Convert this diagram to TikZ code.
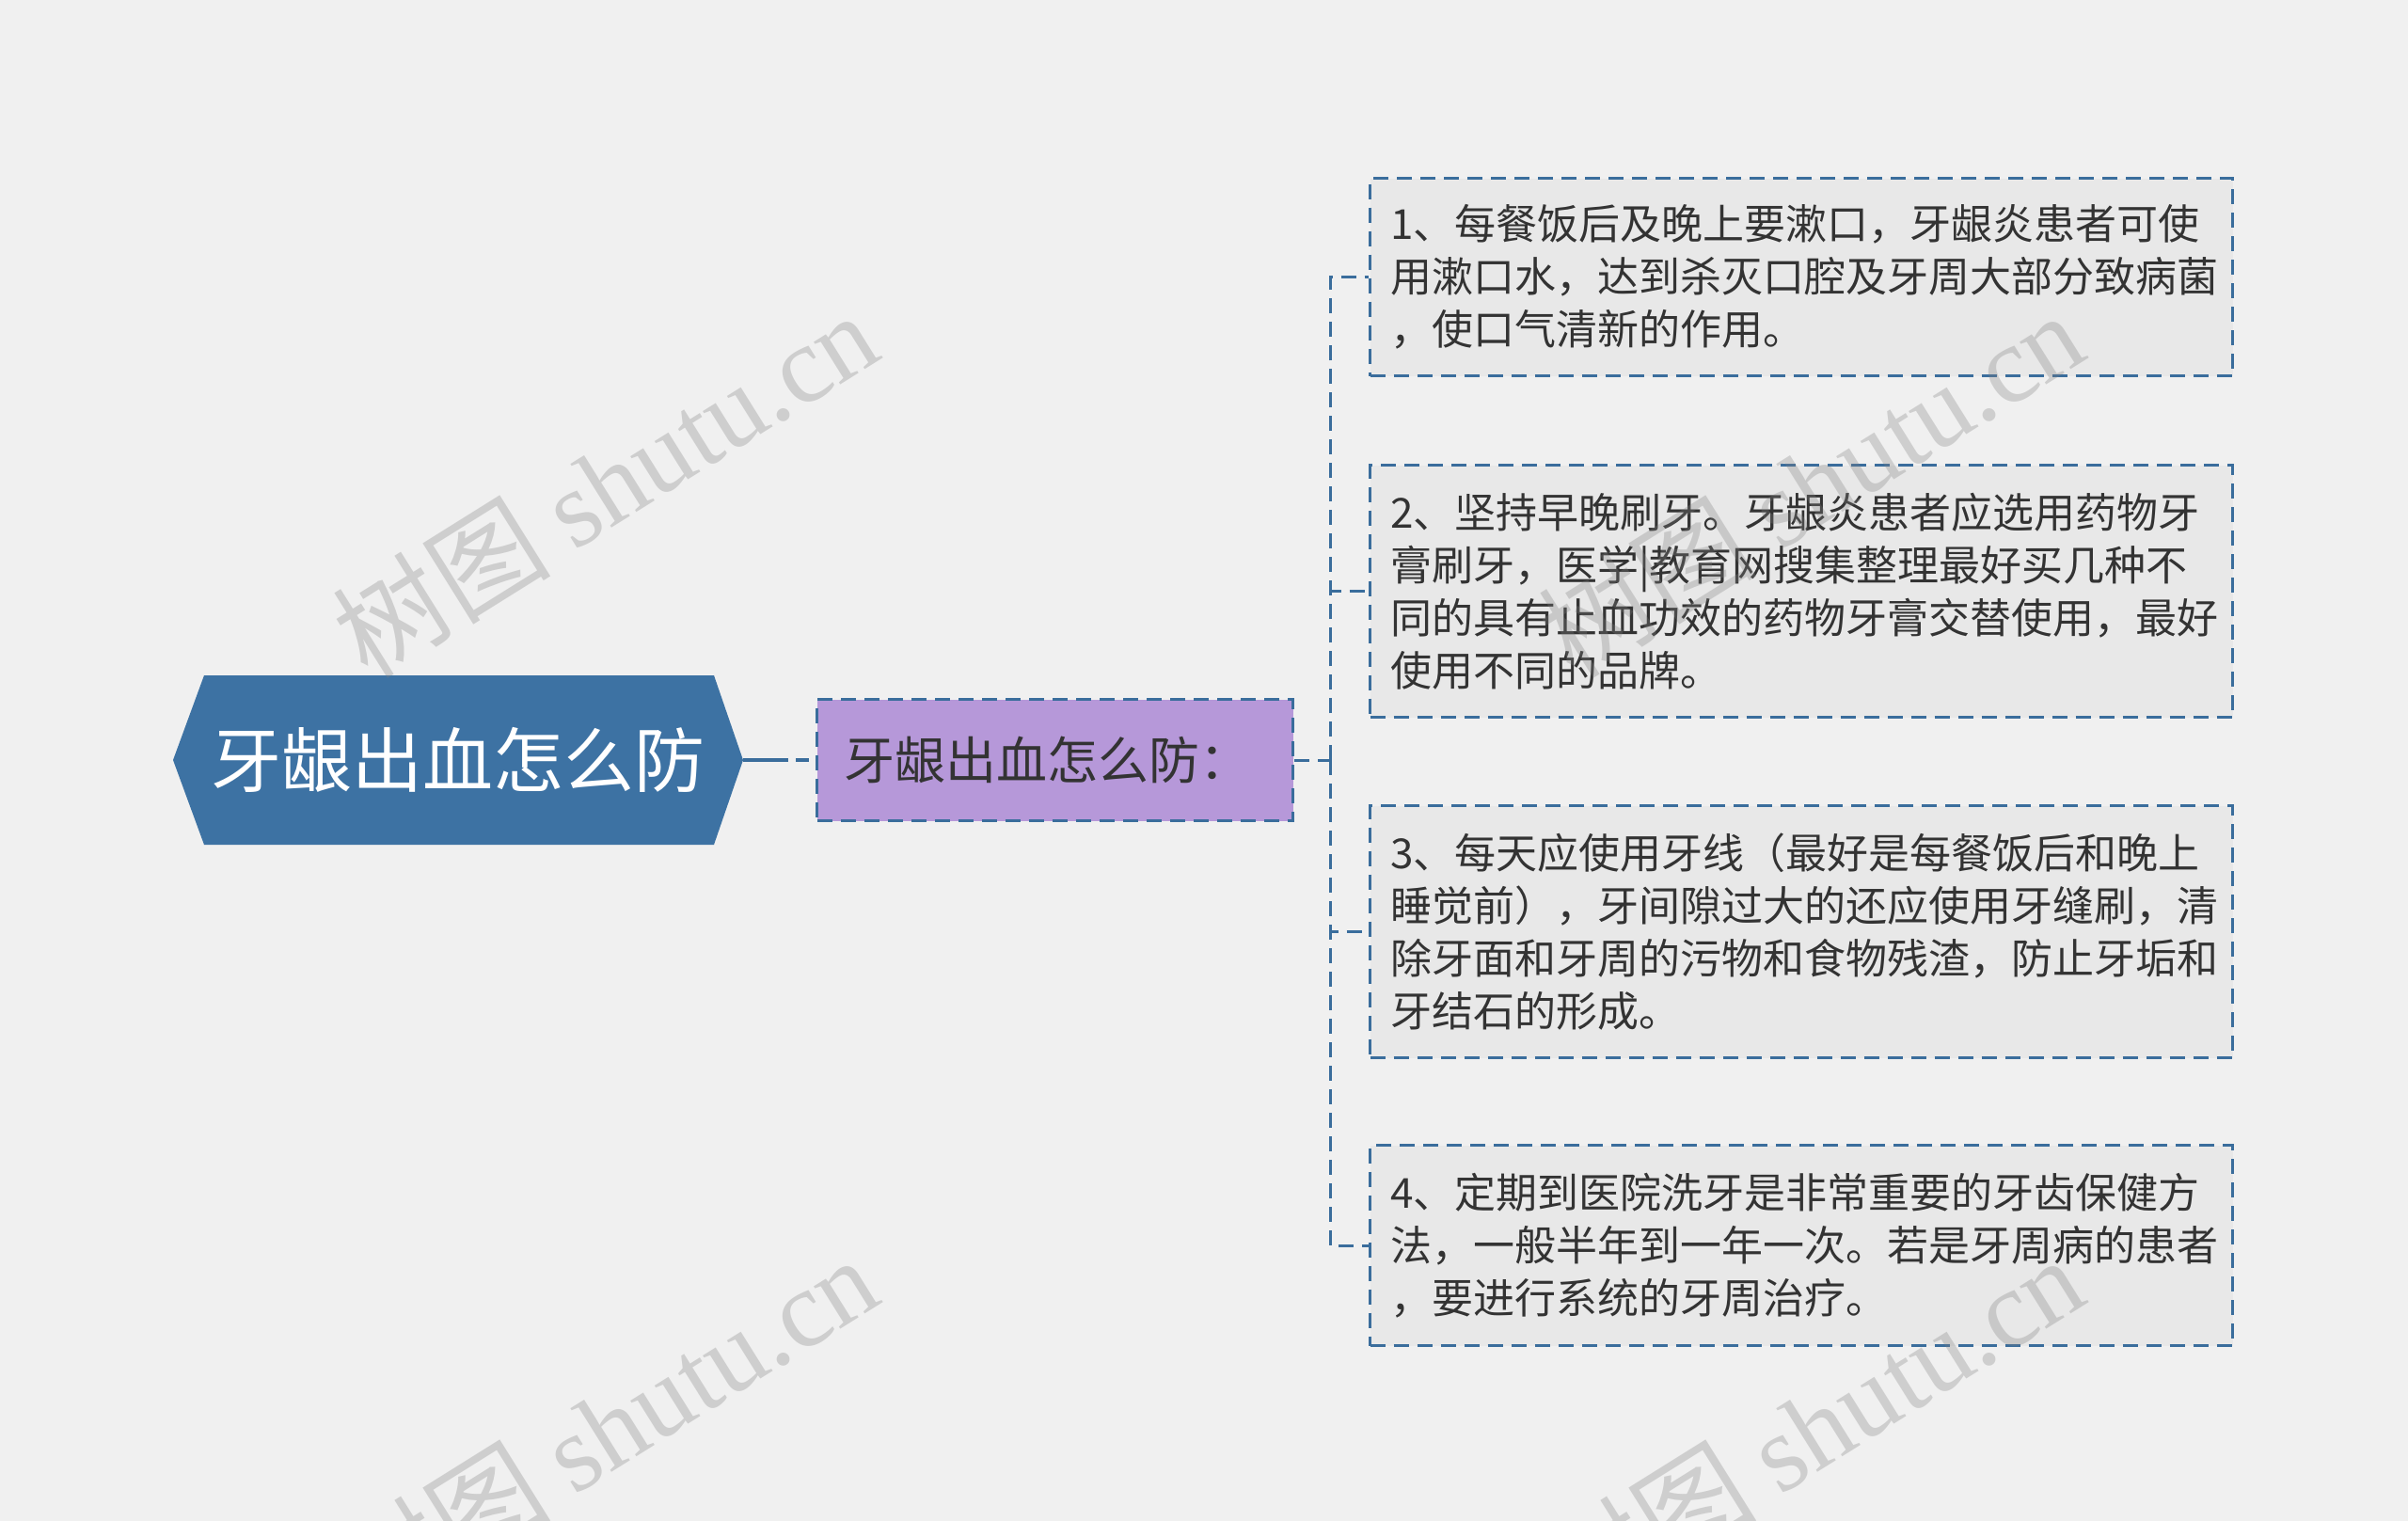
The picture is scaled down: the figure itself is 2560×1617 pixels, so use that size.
\documentclass[tikz,border=0pt]{standalone}
\usepackage{fontspec}
\newfontfamily\cjk{Noto Sans CJK SC}
\newfontfamily\wmserif{Liberation Serif}
\definecolor{bgc}{HTML}{F0F0F0}
\definecolor{rootc}{HTML}{3D72A3}
\definecolor{linec}{HTML}{3A6D9C}
\definecolor{subc}{HTML}{B698D9}
\definecolor{boxc}{HTML}{E8E8E8}
\definecolor{txtc}{HTML}{333333}
\tikzset{
  roottext/.style={text=white, font=\cjk\fontsize{75}{90}\selectfont, inner sep=0pt},
  subbox/.style={draw=linec, line width=3pt, dash pattern=on 16pt off 9pt, fill=subc,
    minimum width=506pt, minimum height=129pt, text width=448pt, align=left,
    inner xsep=29pt, text=txtc, font=\cjk\fontsize{54}{64}\selectfont},
  leafbox/.style={draw=linec, line width=3pt, dash pattern=on 16pt off 9pt, fill=boxc,
    minimum width=917pt, text width=874pt, inner xsep=21.5pt, align=left,
    text=txtc, font=\cjk\fontsize{44}{56}\selectfont, anchor=north west},
  dashline/.style={draw=linec, line width=3pt, dash pattern=on 16pt off 9pt},
  conn/.style={draw=linec, line width=4pt, dash pattern=on 48pt off 8pt on 14pt off 100pt},
  wm/.style={text=gray, text opacity=0.3, rotate=32, inner sep=0pt}
}
\begin{document}
\begin{tikzpicture}[x=1pt,y=-1pt]
\useasboundingbox (0,0) rectangle (2560,1617);
\fill[bgc] (0,0) rectangle (2560,1617);
% root hexagon
\fill[rootc] (184,808) -- (217,718) -- (759,718) -- (790,808) -- (759,898) -- (217,898) -- cycle;
\node[roottext] (root) at (487,808) {牙龈出血怎么防};
\coordinate (rootE) at (790,808);
% sub node
\node[subbox, anchor=west] (sub) at (867,808) {牙龈出血怎么防：};
% leaves
\node[leafbox, minimum height=210pt] (b1) at (1455,188) {1、每餐饭后及晚上要漱口，牙龈炎患者可使\\用漱口水，达到杀灭口腔及牙周大部分致病菌\\，使口气清新的作用。};
\node[leafbox, minimum height=268pt] (b2) at (1455,493) {2、坚持早晚刷牙。牙龈炎患者应选用药物牙\\膏刷牙，医学|教育网搜集整理最好买几种不\\同的具有止血功效的药物牙膏交替使用，最好\\使用不同的品牌。};
\node[leafbox, minimum height=268pt] (b3) at (1455,855) {3、每天应使用牙线（最好是每餐饭后和晚上\\睡觉前），牙间隙过大的还应使用牙缝刷，清\\除牙面和牙周的污物和食物残渣，防止牙垢和\\牙结石的形成。};
\node[leafbox, minimum height=213pt] (b4) at (1455,1216) {4、定期到医院洗牙是非常重要的牙齿保健方\\法，一般半年到一年一次。若是牙周病的患者\\，要进行系统的牙周治疗。};
% connectors
\draw[conn] (rootE) -- (sub.west);
\coordinate (j) at (1414,808);
\draw[dashline] (sub.east) -- (j);
\draw[dashline] (j) |- (b1.west);
\draw[dashline] (j) |- (b2.west);
\draw[dashline] (j) |- (b3.west);
\draw[dashline] (j) |- (b4.west);
% watermarks
\node[wm] (wm1) at (643,514) {\cjk\fontsize{116}{120}\selectfont 树图 \wmserif shutu.cn};
\node[wm] (wm2) at (1925,514) {\cjk\fontsize{116}{120}\selectfont 树图 \wmserif shutu.cn};
\node[wm] (wm3) at (643,1518) {\cjk\fontsize{116}{120}\selectfont 树图 \wmserif shutu.cn};
\node[wm] (wm4) at (1925,1518) {\cjk\fontsize{116}{120}\selectfont 树图 \wmserif shutu.cn};
\end{tikzpicture}
\end{document}
